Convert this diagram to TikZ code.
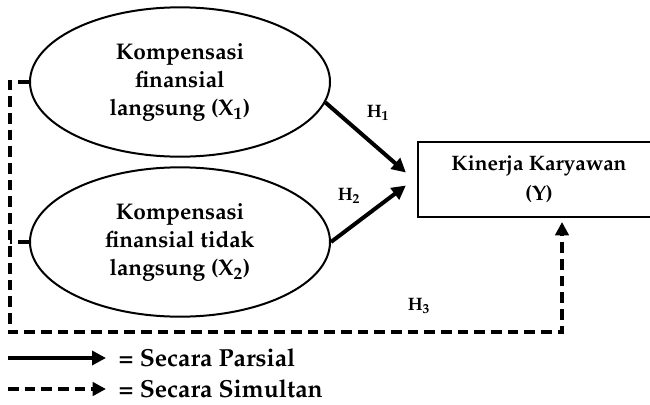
\documentclass[tikz,border=0pt]{standalone}
\usepackage[T1]{fontenc}
\usepackage{mathpazo}
\usepackage{tikz}
\usetikzlibrary{shapes.geometric, arrows.meta, positioning, calc}
\tikzstyle{varnode}=[ellipse, draw, line width=1.5pt, minimum width=225pt,
  minimum height=112pt, align=center, inner sep=0pt,
  font=\bfseries\fontsize{17}{21}\selectfont]
\tikzstyle{outbox}=[rectangle, draw, line width=1.7pt, minimum width=181.5pt,
  minimum height=56.25pt, align=center, font=\bfseries\fontsize{15.7}{23}\selectfont]
\tikzstyle{arrow}=[-{Triangle[length=10.5pt, width=10.5pt]}, line width=3pt]
\tikzstyle{dashline}=[line width=2.6pt, dash pattern=on 8pt off 4.5pt]
\tikzstyle{dasharrow}=[dashline, -{Triangle[length=10pt, width=10pt]}]
\tikzstyle{hlabel}=[font=\bfseries\fontsize{13.5}{15}\selectfont]
\tikzstyle{legtext}=[anchor=west, font=\bfseries\fontsize{18.5}{20}\selectfont]
\newcommand{\lowtext}[1]{\raisebox{-5pt}{\begin{tabular}{@{}c@{}}#1\end{tabular}}}

\begin{document}
\begin{tikzpicture}[x=0.75pt, y=-0.75pt]
  \useasboundingbox (0,0) rectangle (650,404);
  \node[varnode] (x1) at (180,82) {\lowtext{Kompensasi\\ finansial\\ langsung (X\textsubscript{1})}};
  \node[varnode] (x2) at (180,242) {\lowtext{Kompensasi\\ finansial tidak\\ langsung (X\textsubscript{2})}};
  \node[outbox] (y) at (539,179.5) {\raisebox{-3pt}{\begin{tabular}{@{}c@{}}Kinerja Karyawan\\ (Y)\end{tabular}}};
  % partial paths
  \draw[arrow] (x1.-8) -- ($(y.west)+(-11,-7)$);
  \draw[arrow] (x2.east) -- ($(y.west)+(-11,6)$);
  \node[hlabel] (h1) at (378,113) {H\textsubscript{1}};
  \node[hlabel] (h2) at (349,196) {H\textsubscript{2}};
  % simultaneous path
  \coordinate (lc) at (10,332);
  \coordinate (yin) at (562,222);
  \draw[dasharrow] (x1.west) -| (lc) -| (yin);
  \draw[dashline] (x2.west) -- (x2.west -| lc);
  \node[hlabel] (h3) at (419,306) {H\textsubscript{3}};
  % legend
  \coordinate (ls) at (8,358);
  \coordinate (ds) at (8,389);
  \draw[arrow] (ls) -- ++(98,0) coordinate (le);
  \draw[dasharrow] (ds) -- ++(98,0) coordinate (de);
  \node[legtext] (lt1) at ($(le)+(8,0)$) {= Secara Parsial};
  \node[legtext] (lt2) at ($(de)+(8,0)$) {= Secara Simultan};
\end{tikzpicture}
\end{document}
